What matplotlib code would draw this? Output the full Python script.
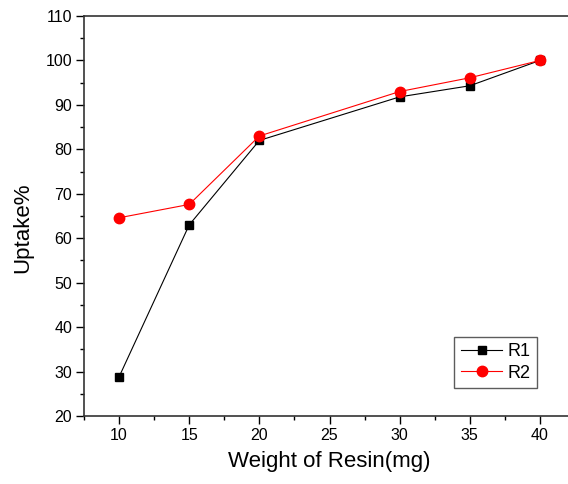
import matplotlib
matplotlib.use("Agg")
import matplotlib.pyplot as plt
from matplotlib.ticker import MultipleLocator

plt.rcParams['font.family'] = ['Liberation Sans', 'DejaVu Sans']

weight = [10, 15, 20, 30, 35, 40]
r1 = [28.8, 63.0, 82.0, 91.8, 94.3, 100.0]
r2 = [64.6, 67.6, 83.0, 93.0, 96.1, 100.0]

fig = plt.figure(figsize=(5.68, 4.84), dpi=100)
ax = fig.add_axes([84/568, 68/484, (575-84)/568, 400/484])

ax.plot(weight, r1, color='black', lw=0.8, marker='s', ms=6, label='R1')
ax.plot(weight, r2, color='red', lw=0.8, marker='o', ms=7.5, label='R2')

ax.set_xlim(7.5, 42.5)
ax.set_ylim(20, 110)
ax.xaxis.set_major_locator(MultipleLocator(5))
ax.xaxis.set_minor_locator(MultipleLocator(2.5))
ax.yaxis.set_major_locator(MultipleLocator(10))
ax.yaxis.set_minor_locator(MultipleLocator(5))
ax.tick_params(which='major', direction='out', length=5.5, width=1, labelsize=11.5,
               top=False, right=False, pad=3)
ax.tick_params(which='minor', direction='out', length=3, width=1, top=False, right=False)
for s in ax.spines.values():
    s.set_linewidth(1.2)
    s.set_color('#333333')

ax.set_xlabel('Weight of Resin(mg)', fontsize=16, labelpad=6)
ax.set_ylabel('Uptake%', fontsize=16)
ax.yaxis.set_label_coords((33-84)/491, (416-228)/400)

leg = ax.legend(loc='lower right', bbox_to_anchor=((537-84)/491, (416-388)/400), fontsize=13,
                frameon=True, fancybox=False, edgecolor='#333333', handlelength=2.3,
                borderpad=0.35, labelspacing=0.25, handletextpad=0.3, borderaxespad=0)
leg.get_frame().set_linewidth(1.0)

fig.savefig('out.png', dpi=100)
